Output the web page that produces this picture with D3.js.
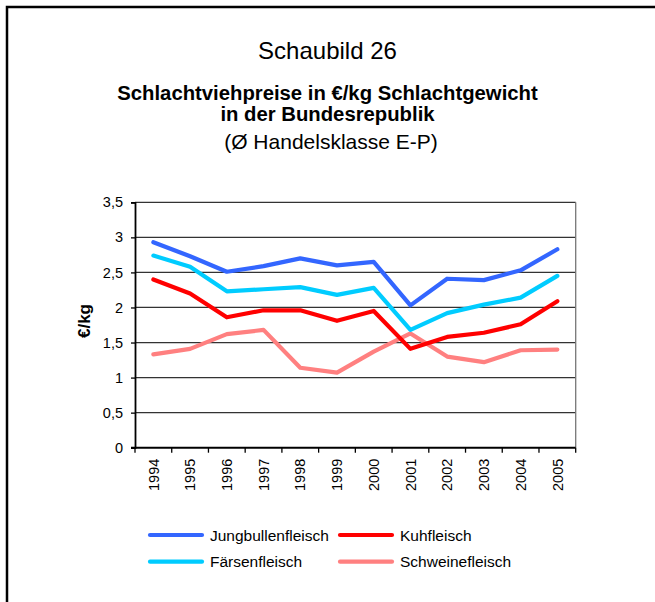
<!DOCTYPE html>
<html>
<head>
<meta charset="utf-8">
<script src="https://cdn.jsdelivr.net/npm/d3@7.9.0/dist/d3.min.js"></script>
<style>
  html, body { margin: 0; padding: 0; background: #fff; }
  svg { display: block; font-family: "Liberation Sans", Arial, sans-serif; }
</style>
</head>
<body>
<div id="chart"></div>
<script>
const years = ['1994', '1995', '1996', '1997', '1998', '1999', '2000', '2001', '2002', '2003', '2004', '2005'];
const jungbullen = [2.93, 2.73, 2.51, 2.59, 2.70, 2.60, 2.65, 2.03, 2.41, 2.39, 2.53, 2.83];
const faersen    = [2.74, 2.58, 2.23, 2.26, 2.29, 2.18, 2.28, 1.68, 1.92, 2.04, 2.14, 2.45];
const kuh        = [2.40, 2.20, 1.86, 1.96, 1.96, 1.81, 1.95, 1.41, 1.58, 1.64, 1.76, 2.09];
const schwein    = [1.33, 1.41, 1.62, 1.68, 1.14, 1.07, 1.37, 1.63, 1.30, 1.22, 1.39, 1.40];
const yTicks = [0, 0.5, 1, 1.5, 2, 2.5, 3, 3.5];

const series = [
  { name: 'Jungbullenfleisch', values: jungbullen, color: '#3366FF' },
  { name: 'Kuhfleisch',        values: kuh,        color: '#FF0000' },
  { name: 'Färsenfleisch',     values: faersen,    color: '#00CCFF' },
  { name: 'Schweinefleisch',   values: schwein,    color: '#FF8080' },
];
// draw order: back to front
const drawOrder = ['Schweinefleisch', 'Kuhfleisch', 'Färsenfleisch', 'Jungbullenfleisch'];

const width = 655;
const height = 602;
const plot = { left: 135, right: 575.7, top: 202.3, bottom: 447.7 };

const svg = d3.select('#chart')
  .append('svg')
  .attr('width', width)
  .attr('height', height);

// outer frame (runs off the right and bottom edge)
svg.append('rect')
  .attr('x', 7).attr('y', 7)
  .attr('width', 700).attr('height', 700)
  .attr('fill', 'none')
  .attr('stroke', '#000')
  .attr('stroke-width', 2.5);

// titles
svg.append('text')
  .attr('x', 327.5).attr('y', 59)
  .attr('text-anchor', 'middle')
  .style('font-size', '24px')
  .text('Schaubild 26');

svg.append('text')
  .attr('x', 327.5).attr('y', 100)
  .attr('text-anchor', 'middle')
  .style('font-size', '20.3px')
  .style('font-weight', 'bold')
  .text('Schlachtviehpreise in €/kg Schlachtgewicht');

svg.append('text')
  .attr('x', 327.5).attr('y', 120.5)
  .attr('text-anchor', 'middle')
  .style('font-size', '20.3px')
  .style('font-weight', 'bold')
  .text('in der Bundesrepublik');

svg.append('text')
  .attr('x', 331).attr('y', 148.5)
  .attr('text-anchor', 'middle')
  .style('font-size', '21px')
  .text('(Ø Handelsklasse E-P)');

const xScale = d3.scaleBand()
  .domain(years)
  .range([plot.left, plot.right]);

const yScale = d3.scaleLinear()
  .domain([0, 3.5])
  .range([plot.bottom, plot.top]);

const de = d3.formatLocale({ decimal: ',', thousands: '.', grouping: [3], currency: ['', ' €'] });
const fmt = de.format('~g');

// gridlines
svg.append('g')
  .selectAll('line')
  .data(yTicks.filter(d => d > 0))
  .join('line')
  .attr('x1', plot.left).attr('x2', plot.right)
  .attr('y1', d => yScale(d)).attr('y2', d => yScale(d))
  .attr('stroke', '#333')
  .attr('stroke-width', 1.2);

// right border of plot area
svg.append('line')
  .attr('x1', plot.right).attr('x2', plot.right)
  .attr('y1', plot.top).attr('y2', plot.bottom)
  .attr('stroke', '#777')
  .attr('stroke-width', 1.3);

// y axis
const yAxis = d3.axisLeft(yScale)
  .tickValues(yTicks)
  .tickFormat(fmt)
  .tickSize(4)
  .tickPadding(8);

const gy = svg.append('g')
  .attr('transform', `translate(${plot.left}, 0)`)
  .call(yAxis);
gy.select('.domain').attr('stroke', '#000').attr('stroke-width', 1.8);
gy.selectAll('.tick line').attr('stroke', '#000').attr('stroke-width', 1.3);
gy.selectAll('.tick text')
  .attr('fill', '#000')
  .style('font-size', '14.5px')
  .style('font-family', '"Liberation Sans", Arial, sans-serif');

// x axis: labels at band centres, ticks at band edges
const xAxis = d3.axisBottom(xScale).tickSize(0).tickPadding(0);
const gx = svg.append('g')
  .attr('transform', `translate(0, ${plot.bottom})`)
  .call(xAxis);
gx.select('.domain').remove();
gx.selectAll('.tick text')
  .attr('fill', '#000')
  .attr('transform', 'rotate(-90)')
  .attr('text-anchor', 'end')
  .attr('x', -11)
  .attr('y', 0)
  .attr('dy', '0.36em')
  .style('font-size', '14.5px')
  .style('font-family', '"Liberation Sans", Arial, sans-serif');

const edges = years.map(d => xScale(d)).concat([plot.right]);
svg.append('g')
  .selectAll('line')
  .data(edges)
  .join('line')
  .attr('x1', d => d).attr('x2', d => d)
  .attr('y1', plot.bottom).attr('y2', plot.bottom + 5)
  .attr('stroke', '#000')
  .attr('stroke-width', 1.3);

svg.append('line')
  .attr('x1', plot.left - 4).attr('x2', plot.right)
  .attr('y1', plot.bottom).attr('y2', plot.bottom)
  .attr('stroke', '#000')
  .attr('stroke-width', 2);

// y axis title
svg.append('text')
  .attr('transform', `translate(90, 321) rotate(-90)`)
  .attr('text-anchor', 'middle')
  .style('font-size', '17px')
  .style('font-weight', 'bold')
  .text('€/kg');

// lines
const line = d3.line()
  .x((d, i) => xScale(years[i]) + xScale.bandwidth() / 2)
  .y(d => yScale(d));

svg.append('g')
  .selectAll('path')
  .data(drawOrder.map(n => series.find(s => s.name === n)))
  .join('path')
  .attr('d', d => line(d.values))
  .attr('fill', 'none')
  .attr('stroke', d => d.color)
  .attr('stroke-width', 4.2)
  .attr('stroke-linejoin', 'round')
  .attr('stroke-linecap', 'round');

// legend
const legendPos = [
  { x: 150, y: 535 }, { x: 340, y: 535 },
  { x: 150, y: 561.7 }, { x: 340, y: 561.7 },
];
const legend = svg.append('g')
  .selectAll('g')
  .data(series)
  .join('g')
  .attr('transform', (d, i) => `translate(${legendPos[i].x}, ${legendPos[i].y})`);

legend.append('line')
  .attr('x1', 0).attr('x2', 52)
  .attr('stroke', d => d.color)
  .attr('stroke-width', 4.2)
  .attr('stroke-linecap', 'round');

legend.append('text')
  .attr('x', 60)
  .attr('dy', '0.36em')
  .style('font-size', '15.5px')
  .text(d => d.name);
</script>
</body>
</html>
